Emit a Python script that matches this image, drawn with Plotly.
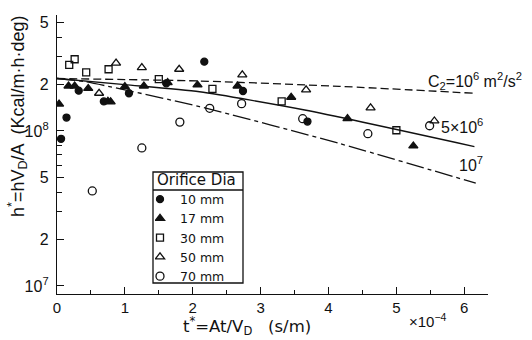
import plotly.graph_objects as go

# ---- data (t* in units of 1e-4 s/m, h* in kcal/m.h.deg) ----
t_10 = [0.06, 0.14, 0.32, 0.69, 1.06, 1.61, 2.17, 2.74, 3.69]
h_10 = [8.9e7, 1.22e8, 1.82e8, 1.55e8, 1.75e8, 2.03e8, 2.8e8, 1.81e8, 1.15e8]

t_17 = [0.03, 0.17, 0.26, 0.46, 0.75, 0.79, 1.00, 1.28, 1.63, 2.07, 2.66, 3.45, 4.28, 5.25]
h_17 = [1.49e8, 1.95e8, 1.95e8, 1.88e8, 1.55e8, 1.54e8, 1.93e8, 1.95e8, 2.05e8, 1.98e8, 1.95e8, 1.65e8, 1.2e8, 8.0e7]

t_30 = [0.18, 0.26, 0.43, 0.76, 1.50, 2.29, 3.31, 5.00]
h_30 = [2.67e8, 2.9e8, 2.39e8, 2.5e8, 2.16e8, 1.87e8, 1.55e8, 1.01e8]

t_50 = [0.62, 0.87, 1.25, 1.80, 2.73, 3.67, 4.62, 5.56]
h_50 = [1.75e8, 2.74e8, 2.56e8, 2.5e8, 2.3e8, 1.84e8, 1.41e8, 1.16e8]

t_70 = [0.52, 1.25, 1.81, 2.25, 2.72, 3.62, 4.58, 5.49]
h_70 = [4.1e7, 7.77e7, 1.14e8, 1.4e8, 1.5e8, 1.2e8, 9.6e7, 1.08e8]

# model curves
t_c1 = [0.0, 2.10, 4.16, 6.15]
h_c1 = [2.18e8, 2.10e8, 1.94e8, 1.75e8]          # C2 = 1e6
t_c5 = [0.0, 1.00, 2.10, 3.65, 6.15]
h_c5 = [2.18e8, 1.99e8, 1.79e8, 1.365e8, 7.93e7]  # C2 = 5e6
t_c10 = [0.0, 0.41, 2.10, 4.16, 6.17]
h_c10 = [2.18e8, 2.08e8, 1.435e8, 8.3e7, 4.6e7]   # C2 = 1e7

y_tickvals = [1e7, 2e7, 5e7, 1e8, 2e8, 5e8]
y_ticktext = ["10<sup>7</sup>", "2", "5", "10<sup>8</sup>", "2", "5"]
y_minor = [3e7, 4e7, 6e7, 7e7, 8e7, 9e7, 3e8, 4e8]
x_tickvals = [0, 1, 2, 3, 4, 5, 6]

series = [
    ("10 mm", t_10, h_10, "circle", 7),
    ("17 mm", t_17, h_17, "triangle-up", 8),
    ("30 mm", t_30, h_30, "square-open", 7),
    ("50 mm", t_50, h_50, "triangle-up-open", 8),
    ("70 mm", t_70, h_70, "circle-open", 8),
]

INK = "#111111"
FONT = "Liberation Sans"
WIDE = "DejaVu Sans"

# plot-area geometry (pixels) used to place paper-referenced texts
L, R, T, B = 57, 488, 15, 294
def px(xp): return (xp - L) / (R - L)
def py(yp): return (B - yp) / (B - T)

fig = go.Figure()

for tt, hh, dash in [(t_c1, h_c1, "8px,4px"), (t_c5, h_c5, "solid"), (t_c10, h_c10, "18px,4px,4px,4px")]:
    fig.add_trace(go.Scatter(x=tt, y=hh, mode="lines", showlegend=False, hoverinfo="skip",
                             line=dict(color=INK, width=1.3, dash=dash, shape="spline", smoothing=0.6)))

for name, tt, hh, sym, sz in series:
    fig.add_trace(go.Scatter(x=tt, y=hh, mode="markers", name=name,
                             marker=dict(symbol=sym, size=sz, color=INK,
                                         line=dict(color=INK, width=1.3))))

fig.update_layout(
    width=532, height=340,
    margin=dict(l=L, r=532 - R, t=T, b=340 - B, pad=0),
    paper_bgcolor="white", plot_bgcolor="white",
    font=dict(family=FONT, size=16, color=INK),
    showlegend=True,
    legend=dict(x=px(155), y=py(165), xanchor="left", yanchor="top",
                borderwidth=0, bgcolor="rgba(0,0,0,0)",
                font=dict(family=WIDE, size=12.5, color=INK),
                title=dict(text="Orifice Dia", font=dict(family=WIDE, size=15, color=INK)),
                tracegroupgap=0, itemwidth=30, indentation=-15),
    xaxis=dict(range=[0, 6.35], showline=True, linecolor=INK, linewidth=1.3,
               ticks="inside", ticklen=7, tickwidth=1.3, tickcolor=INK,
               tickvals=x_tickvals, showgrid=False, zeroline=False,
               minor=dict(dtick=0.5, tick0=0, ticks="inside", ticklen=4, tickcolor=INK, tickwidth=1.2, showgrid=False),
               tickfont=dict(size=15), ticklabelstandoff=0),
    yaxis=dict(type="log", range=[6.948, 8.748], showline=True, linecolor=INK, linewidth=1.3,
               ticks="inside", ticklen=7, tickwidth=1.3, tickcolor=INK,
               tickvals=y_tickvals, ticktext=y_ticktext, showgrid=False, zeroline=False,
               minor=dict(tickvals=y_minor, ticks="inside", ticklen=5, tickcolor=INK, tickwidth=1.2, showgrid=False),
               tickfont=dict(size=16), ticklabelstandoff=4),
    shapes=[
        dict(type="rect", xref="paper", yref="paper", x0=px(153), x1=px(243), y0=py(283), y1=py(172),
             line=dict(color=INK, width=1.3), fillcolor="white", layer="above"),
        dict(type="line", xref="paper", yref="paper", x0=px(153), x1=px(243), y0=py(190), y1=py(190),
             line=dict(color=INK, width=1.3), layer="above"),
    ],
)

ann = [
    dict(text="C<sub>2</sub>=10<sup>6</sup> m<sup>2</sup>/s<sup>2</sup>", x=5.44, y=8.32, xref="x", yref="y",
         xanchor="left", yanchor="middle", showarrow=False, font=dict(size=16)),
    dict(text="5×10<sup>6</sup>", x=5.96, y=8.03, xref="x", yref="y",
         xanchor="center", yanchor="middle", showarrow=False, font=dict(size=16)),
    dict(text="10<sup>7</sup>", x=6.10, y=7.785, xref="x", yref="y",
         xanchor="center", yanchor="middle", showarrow=False, font=dict(size=16)),
    dict(text="×10<sup>−4</sup>", x=px(428), y=py(320), xref="paper", yref="paper",
         xanchor="center", yanchor="middle", showarrow=False, font=dict(size=15)),
    dict(text="t<sup>*</sup>=At/V<sub>D</sub>   (s/m)", x=px(247), y=py(340),
         xref="paper", yref="paper", xanchor="center", yanchor="bottom", showarrow=False,
         font=dict(family=WIDE, size=16.5)),
    dict(text="h<sup>*</sup>=hV<sub>D</sub>/A  (Kcal/m·h·deg)", x=px(17), y=py(116),
         xref="paper", yref="paper", xanchor="center", yanchor="middle", textangle=-90,
         showarrow=False, font=dict(size=18)),
]
fig.update_layout(annotations=ann)

fig.write_html("out.html")
